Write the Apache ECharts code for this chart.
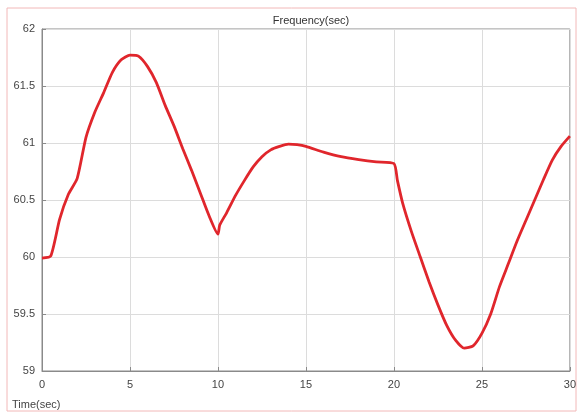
<!DOCTYPE html>
<html>
<head>
<meta charset="utf-8">
<script src="https://cdn.jsdelivr.net/npm/echarts@6/dist/echarts.min.js"></script>
<style>
html,body{margin:0;padding:0;background:#fff;}
#chart{width:579px;height:413px;}
</style>
</head>
<body>
<div id="chart"></div>
<script>
// 频率响应曲线 (读图估计的数值)
var time = [0, 0.5, 1, 1.5, 2, 2.5, 3, 3.5, 4, 4.5, 5, 5.5, 6, 6.5, 7, 7.5, 8, 8.5, 9, 9.5, 10,
	10.1, 10.5, 11, 11.5, 12, 12.5, 13, 13.5, 14, 14.5, 15, 16, 17, 18, 19, 20,
	20.2, 20.5, 21, 21.5, 22, 22.5, 23, 23.5, 24, 24.5, 25, 25.5, 26, 26.5, 27, 27.5, 28, 28.5, 29, 29.5, 30];
var freq = [59.99, 60.01, 60.33, 60.55, 60.69, 61.05, 61.27, 61.44, 61.62, 61.73, 61.77, 61.76, 61.67, 61.53, 61.33, 61.15, 60.95, 60.76, 60.56, 60.36, 60.2,
	60.28, 60.39, 60.54, 60.67, 60.79, 60.88, 60.94, 60.97, 60.99, 60.985, 60.97, 60.92, 60.88, 60.855, 60.835, 60.82,
	60.67, 60.47, 60.22, 60.0, 59.78, 59.58, 59.4, 59.27, 59.2, 59.22, 59.33, 59.5, 59.74, 59.94, 60.14, 60.32, 60.5, 60.68, 60.85, 60.97, 61.06];
var xTicks = [0, 5, 10, 15, 20, 25, 30];
var yTicks = [59, 59.5, 60, 60.5, 61, 61.5, 62];

var points = [];
for (var i = 0; i < time.length; i++) {
	points.push([time[i], freq[i]]);
}

var chart = echarts.init(document.getElementById('chart'));
var option = {
	animation: false,
	backgroundColor: '#fff',
	title: {
		text: 'Frequency(sec)',
		left: 306,
		top: 10,
		textAlign: 'center',
		textStyle: {fontFamily: 'Liberation Sans', fontSize: 11, fontWeight: 'normal', color: '#333'}
	},
	grid: {
		left: 42, right: 9, top: 29, bottom: 42,
		show: true, borderColor: '#8a8a8a', borderWidth: 1
	},
	xAxis: {
		type: 'value',
		min: xTicks[0], max: xTicks[xTicks.length - 1], interval: 5,
		axisLine: {show: true, lineStyle: {color: '#8a8a8a'}},
		axisTick: {show: true, inside: true, length: 4, lineStyle: {color: '#8a8a8a'}},
		splitLine: {show: true, lineStyle: {color: '#dcdcdc', width: 1}},
		axisLabel: {margin: 8, fontFamily: 'Liberation Sans', fontSize: 11, color: '#444'}
	},
	yAxis: {
		type: 'value',
		min: yTicks[0], max: yTicks[yTicks.length - 1], interval: 0.5,
		axisLine: {show: true, lineStyle: {color: '#8a8a8a'}},
		axisTick: {show: true, inside: true, length: 4, lineStyle: {color: '#8a8a8a'}},
		splitLine: {show: true, lineStyle: {color: '#dcdcdc', width: 1}},
		axisLabel: {margin: 7, fontFamily: 'Liberation Sans', fontSize: 11, color: '#444'}
	},
	series: [{
		type: 'line',
		data: points,
		showSymbol: false,
		smooth: 0.2,
		lineStyle: {color: '#e0262c', width: 2.8}
	}],
	graphic: [
		{
			type: 'rect',
			shape: {x: 7, y: 8, width: 569, height: 403},
			style: {fill: 'none', stroke: '#f2b8b8', lineWidth: 1},
			silent: true
		},
		{
			type: 'text',
			left: 12, top: 399,
			style: {text: 'Time(sec)', fontFamily: 'Liberation Sans', fontSize: 11, fill: '#444'}
		}
	]
};
chart.setOption(option);
</script>
</body>
</html>
